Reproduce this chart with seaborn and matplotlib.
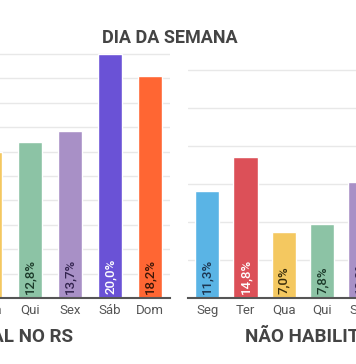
import matplotlib
matplotlib.use("Agg")
import matplotlib.pyplot as plt
import seaborn as sns
import pandas as pd

# Data (percent of accidents by weekday)
dias = ["Seg", "Ter", "Qua", "Qui", "Sex", "Sáb", "Dom"]
total_rs = [11.2, 12.1, 12.0, 12.8, 13.7, 20.0, 18.2]
nao_habilitados = [11.3, 14.8, 7.0, 7.8, 12.2, 22.6, 24.3]

titulo = "DIA DA SEMANA"
rotulo_esq = "TOTAL NO RS"
rotulo_dir = "NÃO HABILITADOS"

cores = ["#5AB4E5", "#DC5058", "#F4C860", "#8CC3A5", "#A890C6", "#6A52D6", "#FF6633"]
cores_txt = ["#1d3550", "white", "#3a2e0c", "#1c3a2a", "#33244f", "white", "#3a1608"]

sns.set_theme(style="white")
plt.rcParams["font.family"] = ["Roboto", "DejaVu Sans"]

W, H = 356, 364
fig = plt.figure(figsize=(W / 100, H / 100), dpi=100)


def painel(rect, valores, ylim, passo, larg):
    ax = fig.add_axes(rect)
    df = pd.DataFrame({"dia": dias, "pct": valores})
    sns.barplot(data=df, x="dia", y="pct", hue="dia", palette=cores,
                legend=False, width=larg, saturation=1, ax=ax, zorder=2)
    ax.set_ylim(*ylim)
    ax.set_xlim(-0.5, 6.5)
    ax.set_yticks([v for v in range(passo, int(ylim[1]) + 1, passo)])
    ax.yaxis.grid(True, color="#E8E8E8", lw=1, zorder=0)
    ax.set_axisbelow(True)
    ax.set_yticklabels([])
    ax.tick_params(axis="y", length=0)
    ax.tick_params(axis="x", length=0, pad=4, labelsize=9.5, labelcolor="#555555")
    ax.set_xlabel("")
    ax.set_ylabel("")
    for s in ["top", "right", "left"]:
        ax.spines[s].set_visible(False)
    ax.spines["bottom"].set_color("#555555")
    ax.spines["bottom"].set_linewidth(1.5)
    ax.spines["bottom"].set_zorder(3)
    for i, v in enumerate(valores):
        ax.annotate(f"{v:.1f}%".replace(".", ","), xy=(i, 0), xytext=(0, 3),
                    textcoords="offset points", ha="center", va="bottom",
                    rotation=90, fontsize=9.5, fontweight="medium",
                    color=cores_txt[i], zorder=4)
    return ax


base = (H - 298) / H
# left panel: 40 px per day, 12.2 px per percent
painel([-110 / W, base, 280 / W, 20.6 * 12.2 / H], total_rs, (0, 20.6), 2, 0.59)
# right panel: 38.3 px per day, 9.5 px per percent
painel([188 / W, base, 7 * 38.3 / W, 25 * 9.5 / H], nao_habilitados, (0, 25), 4, 0.63)

fig.text(170 / W, 1 - 38 / H, titulo, ha="center", va="center",
         fontsize=13, fontweight="bold", color="#444444")
fig.text(73 / W, 1 - 337 / H, rotulo_esq, ha="right", va="center",
         fontsize=13.5, fontweight="bold", color="#444444")
fig.text(245 / W, 1 - 337 / H, rotulo_dir, ha="left", va="center",
         fontsize=13.5, fontweight="bold", color="#444444")

fig.savefig("out.png", dpi=100)
